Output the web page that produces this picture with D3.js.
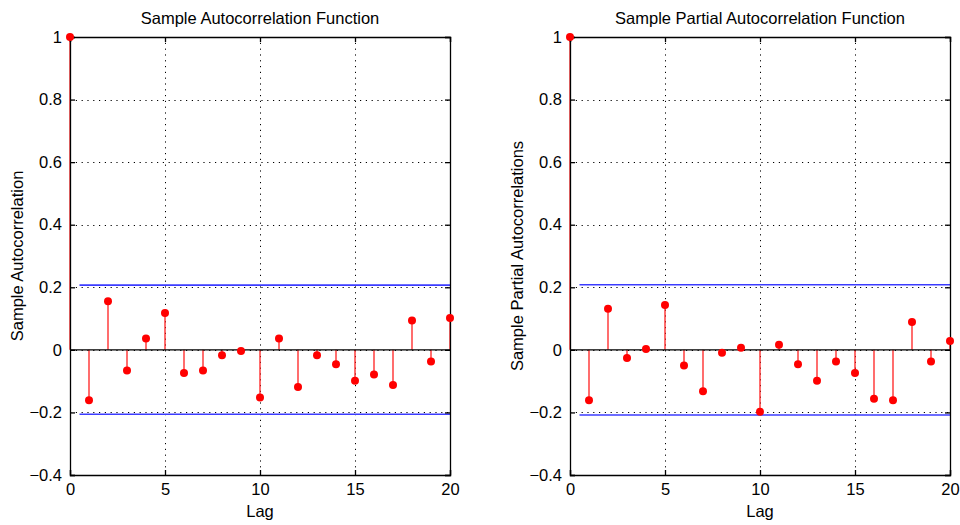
<!DOCTYPE html>
<html>
<head>
<meta charset="utf-8">
<script src="https://d3js.org/d3.v7.min.js"></script>
<title>Sample ACF and PACF</title>
<style type="text/css">
  body { margin: 0; background: #ffffff; }
  text { font-family: Arial, "Liberation Sans", Helvetica, sans-serif; fill: #000; }
</style>
</head>
<body>
<div id="chart"></div>
<script>

// lags 0..20
var lags = d3.range(0, 21);

// sample autocorrelation (left panel)
var acfValues = [1, -0.161, 0.155, -0.066, 0.036, 0.118, -0.074, -0.066, -0.017, -0.004, -0.152,
                 0.036, -0.119, -0.017, -0.046, -0.099, -0.079, -0.112, 0.094, -0.037, 0.102];

// sample partial autocorrelation (right panel)
var pacfValues = [1, -0.161, 0.131, -0.026, 0.003, 0.143, -0.050, -0.132, -0.009, 0.007, -0.198,
                  0.016, -0.046, -0.099, -0.037, -0.074, -0.156, -0.161, 0.089, -0.037, 0.028];

// confidence bounds
var acfBounds = [0.207, -0.206];
var pacfBounds = [0.208, -0.208];

// axis ticks
var xTicks = [0, 5, 10, 15, 20];
var yTicks = [-0.4, -0.2, 0, 0.2, 0.4, 0.6, 0.8, 1];

var W = 960, H = 525;

var svg = d3.select("#chart").append("svg")
  .attr("width", W)
  .attr("height", H);

drawPanel({ left: 70, right: 450, title: "Sample Autocorrelation Function",
            ylabel: "Sample Autocorrelation", ylabelX: 18,
            values: acfValues, bounds: acfBounds });

drawPanel({ left: 570, right: 950, title: "Sample Partial Autocorrelation Function",
            ylabel: "Sample Partial Autocorrelations", ylabelX: 518,
            values: pacfValues, bounds: pacfBounds });

function drawPanel(p) {
  var top = 37, bottom = 475;

  var x = d3.scaleLinear().domain([0, 20]).range([p.left, p.right]);
  var y = d3.scaleLinear().domain([-0.4, 1]).range([bottom, top]);

  var g = svg.append("g");

  // dotted grid
  g.append("g").selectAll("line")
    .data(yTicks.filter(function(d) { return d != -0.4 && d != 1; }))
    .enter().append("line")
    .attr("x1", p.left).attr("x2", p.right)
    .attr("y1", function(d) { return Math.round(y(d)) + 0.5; })
    .attr("y2", function(d) { return Math.round(y(d)) + 0.5; })
    .attr("stroke", "#000")
    .attr("stroke-width", 1)
    .attr("stroke-dasharray", "1.2,4.6");

  g.append("g").selectAll("line")
    .data(xTicks.filter(function(d) { return d != 0 && d != 20; }))
    .enter().append("line")
    .attr("y1", top).attr("y2", bottom)
    .attr("x1", function(d) { return Math.round(x(d)) + 0.5; })
    .attr("x2", function(d) { return Math.round(x(d)) + 0.5; })
    .attr("stroke", "#000")
    .attr("stroke-width", 1)
    .attr("stroke-dasharray", "1.2,4.6");

  // stems
  var data = lags.map(function(l, i) { return { lag: l, v: p.values[i] }; });

  g.append("g").selectAll("line")
    .data(data)
    .enter().append("line")
    .attr("x1", function(d) { return x(d.lag); })
    .attr("x2", function(d) { return x(d.lag); })
    .attr("y1", y(0))
    .attr("y2", function(d) { return y(d.v); })
    .attr("stroke", "#ff2020")
    .attr("stroke-width", 1.3);

  // zero baseline
  g.append("line")
    .attr("x1", x(0)).attr("x2", x(20))
    .attr("y1", y(0)).attr("y2", y(0))
    .attr("stroke", "#000")
    .attr("stroke-width", 1.3);

  // confidence bounds
  g.append("g").selectAll("line")
    .data(p.bounds)
    .enter().append("line")
    .attr("x1", x(0.5)).attr("x2", x(20))
    .attr("y1", function(d) { return y(d); })
    .attr("y2", function(d) { return y(d); })
    .attr("stroke", "#3c3cff")
    .attr("stroke-width", 1.6);

  // axes box with inward ticks
  var axB = d3.axisBottom(x).tickValues(xTicks).tickSize(-5).tickPadding(8).tickFormat(d3.format("d"));
  var axT = d3.axisTop(x).tickValues(xTicks).tickSize(-5).tickFormat("");
  var axL = d3.axisLeft(y).tickValues(yTicks).tickSize(-5).tickPadding(8).tickFormat(function(d) { return d == 0 ? "0" : d3.format("")(d); });
  var axR = d3.axisRight(y).tickValues(yTicks).tickSize(-5).tickFormat("");

  [[axB, "translate(0," + bottom + ")"], [axT, "translate(0," + top + ")"],
   [axL, "translate(" + p.left + ",0)"], [axR, "translate(" + p.right + ",0)"]].forEach(function(a) {
    var ga = g.append("g").attr("transform", a[1]).call(a[0]);
    ga.select(".domain").attr("stroke", "#000").attr("stroke-width", 1.3);
    ga.selectAll(".tick line").attr("stroke", "#000").attr("stroke-width", 1.3);
    ga.selectAll(".tick text").attr("font-size", "16.5px").attr("font-family", "Arial, 'Liberation Sans', sans-serif").attr("fill", "#000");
  });

  // markers
  g.append("g").selectAll("circle")
    .data(data)
    .enter().append("circle")
    .attr("cx", function(d) { return x(d.lag); })
    .attr("cy", function(d) { return y(d.v); })
    .attr("r", 4)
    .attr("fill", "#ff0000");

  // title
  g.append("text")
    .attr("x", (p.left + p.right) / 2)
    .attr("y", 24)
    .attr("text-anchor", "middle")
    .attr("font-size", "16.5px")
    .text(p.title);

  // x label
  g.append("text")
    .attr("x", (p.left + p.right) / 2)
    .attr("y", 517)
    .attr("text-anchor", "middle")
    .attr("font-size", "16.5px")
    .text("Lag");

  // y label
  g.append("text")
    .attr("transform", "translate(" + (p.ylabelX + 5) + "," + ((top + bottom) / 2) + ") rotate(-90)")
    .attr("text-anchor", "middle")
    .attr("font-size", "16.5px")
    .text(p.ylabel);
}

</script>
</body>
</html>
